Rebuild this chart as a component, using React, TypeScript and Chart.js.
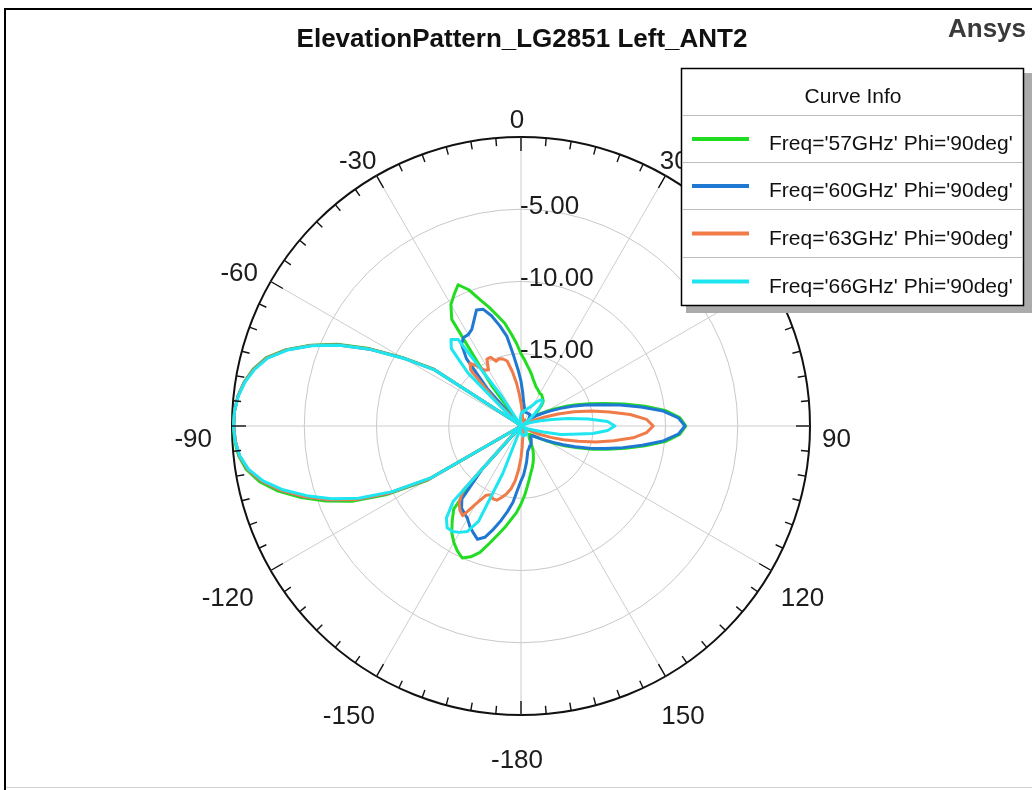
import React, { useEffect, useRef } from 'react';
import { Chart, registerables } from 'chart.js';

Chart.register(...registerables);

// Angle categories (deg), in the chart's clockwise order starting at the top
const ANGLES = [
  0, 3, 6, 9, 12, 15, 18, 21, 24, 27, 30, 33, 36, 39, 42, 45, 48, 51, 54, 57,
  60, 63, 66, 69, 72, 75, 78, 81, 84, 87, 90, 93, 96, 99, 102, 105, 108, 111, 114, 117,
  120, 123, 126, 129, 132, 135, 138, 141, 144, 147, 150, 153, 156, 159, 162, 165, 168, 171, 174, 177,
  180, -177, -174, -171, -168, -165, -162, -159, -156, -153, -150, -147, -144, -141, -138, -135, -132, -129, -126, -123,
  -120, -117, -114, -111, -108, -105, -102, -99, -96, -93, -90, -87, -84, -81, -78, -75, -72, -69, -66, -63,
  -60, -57, -54, -51, -48, -45, -42, -39, -36, -33, -30, -27, -24, -21, -18, -15, -12, -9, -6, -3,
];

// Normalized gain (dB) per angle
const GAIN_57GHZ = [
  -15.0, -15.4, -15.8, -16.1, -16.4, -16.7, -16.9, -17.1, -17.2, -17.3,
  -17.4, -17.4, -17.5, -17.6, -17.7, -18.0, -18.5, -18.8, -18.8, -18.5,
  -18.0, -17.4, -16.7, -15.9, -15.0, -14.0, -12.7, -11.3, -9.9, -9.0,
  -8.6, -9.0, -9.9, -11.3, -12.6, -13.8, -14.8, -15.8, -16.6, -17.3,
  -17.9, -18.4, -18.7, -19.0, -19.1, -19.2, -19.2, -19.1, -19.0, -18.9,
  -18.6, -18.2, -17.9, -17.6, -17.3, -17.0, -16.7, -16.3, -15.8, -15.2,
  -14.6,
  -14.0, -13.5, -12.9, -12.3, -11.6, -10.8, -10.3, -10.0, -10.3, -10.7,
  -11.2, -11.9, -12.6, -15.5, -20, -20, -20, -20, -19.8, -12.4,
  -9.5, -7.2, -5.5, -4.0, -2.6, -1.5, -0.75, -0.35, -0.15, -0.1,
  -0.15, -0.3, -0.6, -1.05, -1.75, -2.9, -4.4, -6.1, -8.2, -10.5,
  -12.7, -19.6, -20, -20, -20, -20, -20, -16.5, -11.2, -10.3,
  -9.8, -9.3, -9.9, -10.8, -11.5, -12.2, -12.8, -13.6, -14.3,
];

const GAIN_60GHZ = [
  -16.9, -17.7, -18.3, -18.6, -18.8, -18.9, -19.0, -19.0, -19.0, -19.0,
  -19.0, -19.0, -19.0, -19.0, -19.1, -19.2, -19.3, -19.2, -19.0, -18.6,
  -18.2, -17.7, -17.0, -16.2, -15.3, -14.3, -13.0, -11.6, -10.1, -9.1,
  -8.65, -9.1, -10.1, -11.5, -12.8, -14.0, -15.0, -16.0, -16.8, -17.5,
  -18.0, -18.4, -18.7, -18.9, -19.0, -19.0, -19.0, -18.9, -18.8, -18.7,
  -18.6, -18.5, -18.5, -18.4, -18.3, -18.2, -17.9, -17.5, -17.1, -16.6,
  -16.2,
  -15.6, -14.7, -14.0, -13.3, -12.6, -11.9, -11.6, -11.9, -12.2, -12.6,
  -12.8, -13.0, -13.5, -16.0, -20, -20, -20, -20, -19.8, -12.7,
  -9.8, -7.5, -5.75, -4.2, -2.8, -1.65, -0.85, -0.4, -0.2, -0.12,
  -0.15, -0.3, -0.62, -1.1, -1.8, -2.95, -4.45, -6.2, -8.3, -10.6,
  -12.8, -19.6, -20, -20, -19.5, -16.5, -14.0, -13.0, -12.7, -12.7,
  -12.5, -12.0, -11.4, -11.5, -12.1, -12.9, -13.7, -15.1, -16.1,
];

const GAIN_63GHZ = [
  -18.4, -18.8, -19.1, -19.3, -19.5, -19.6, -19.6, -19.6, -19.6, -19.6,
  -19.5, -19.5, -19.5, -19.5, -19.6, -19.7, -19.8, -19.9, -19.9, -19.9,
  -19.8, -19.5, -19.0, -18.3, -17.3, -16.2, -15.0, -13.8, -12.4, -11.3,
  -10.85, -11.3, -12.2, -13.5, -14.7, -15.9, -16.9, -17.8, -18.6, -19.2,
  -19.6, -19.8, -19.9, -19.9, -19.9, -19.9, -19.9, -19.9, -19.8, -19.8,
  -19.7, -19.7, -19.6, -19.6, -19.5, -19.4, -19.3, -19.2, -19.0, -18.5,
  -17.8,
  -17.0, -16.2, -15.6, -15.2, -14.9, -14.6, -14.6, -14.8, -14.6, -13.8,
  -12.6, -12.8, -13.2, -14.0, -19.5, -20, -20, -20, -19.8, -12.7,
  -9.8, -7.5, -5.75, -4.2, -2.8, -1.65, -0.85, -0.4, -0.2, -0.12,
  -0.15, -0.3, -0.62, -1.1, -1.8, -2.95, -4.45, -6.2, -8.3, -10.6,
  -12.8, -19.6, -20, -20, -17.5, -14.8, -14.4, -14.9, -15.4, -15.5,
  -14.8, -14.8, -15.2, -15.1, -15.2, -15.4, -16.2, -17.0, -17.8,
];

const GAIN_66GHZ = [
  -19.2, -19.1, -19.0, -19.0, -18.9, -18.9, -18.8, -18.7, -18.6, -18.5,
  -18.3, -18.0, -17.8, -17.7, -17.8, -18.2, -18.7, -19.2, -19.6, -19.8,
  -19.9, -19.9, -19.8, -19.5, -19.1, -18.6, -17.8, -16.7, -15.3, -14.0,
  -13.5, -14.0, -15.0, -16.4, -17.2, -18.4, -19.1, -19.5, -19.7, -19.8,
  -19.8, -19.7, -19.7, -19.6, -19.6, -19.5, -19.5, -19.4, -19.4, -19.3,
  -19.3, -19.3, -19.3, -19.3, -19.3, -19.3, -19.3, -19.4, -19.4, -19.5,
  -19.6,
  -19.7, -19.8, -19.8, -19.8, -19.7, -19.5, -16.5, -12.8, -11.8, -11.5,
  -11.3, -11.3, -11.8, -13.0, -19.8, -20, -20, -20, -19.8, -12.9,
  -10.0, -7.7, -5.95, -4.4, -2.95, -1.75, -0.9, -0.42, -0.18, -0.1,
  -0.15, -0.32, -0.65, -1.15, -1.85, -3.0, -4.5, -6.25, -8.35, -10.65,
  -12.9, -19.6, -20, -19.0, -14.8, -12.8, -12.3, -12.6, -17.5, -19.8,
  -20, -20, -20, -20, -20, -20, -19.8, -19.6, -19.4,
];

const SERIES_NAMES = [
  "Freq='57GHz' Phi='90deg'",
  "Freq='60GHz' Phi='90deg'",
  "Freq='63GHz' Phi='90deg'",
  "Freq='66GHz' Phi='90deg'",
];
const SERIES_COLORS = ['#22dc22', '#1f78d2', '#f07a48', '#1ee6f0'];

const ANGLE_TICKS = [0, 30, 60, 90, 120, 150, 180, -150, -120, -90, -60, -30];
const ANGLE_TICK_LABELS = ['0', '30', '60', '90', '120', '150', '-180', '-150', '-120', '-90', '-60', '-30'];
const RADIAL_TICKS = [-5, -10, -15];
const RADIAL_TICK_LABELS = ['-5.00', '-10.00', '-15.00'];
const TITLE = 'ElevationPattern_LG2851 Left_ANT2';
const BRAND = 'Ansys';
const LEGEND_TITLE = 'Curve Info';

const LABEL_FONT = '26px "Liberation Sans", Arial, sans-serif';

const overlayPlugin = {
  id: 'overlay',
  afterDraw(chart: any) {
    const ctx: CanvasRenderingContext2D = chart.ctx;
    const scale = chart.scales.r;
    const cx = scale.xCenter;
    const cy = scale.yCenter;
    const R = scale.drawingArea;
    ctx.save();

    // degree ticks on the outer circle
    ctx.strokeStyle = '#111';
    ctx.lineWidth = 1.4;
    for (let a = 0; a < 360; a += 5) {
      const len = a % 30 === 0 ? 14 : 8;
      const t = (a * Math.PI) / 180;
      const s = Math.sin(t);
      const c = Math.cos(t);
      ctx.beginPath();
      ctx.moveTo(cx + R * s, cy - R * c);
      ctx.lineTo(cx + (R - len) * s, cy - (R - len) * c);
      ctx.stroke();
    }

    // angle labels
    ctx.font = LABEL_FONT;
    ctx.fillStyle = '#1c1c1c';
    ctx.textAlign = 'center';
    ctx.textBaseline = 'alphabetic';
    const digitH = 19;
    ANGLE_TICKS.forEach((a, i) => {
      const idx = ANGLES.indexOf(a);
      const t = (a * Math.PI) / 180;
      const s = Math.sin(t);
      const c = Math.cos(t);
      const g = 10 + (12 * (1 - c)) / 2;
      const p = scale.getPointPosition(idx, R + g);
      const text = ANGLE_TICK_LABELS[i];
      const w = ctx.measureText(text).width;
      const dy = c > 0.2 ? 1 : c > -0.2 ? 11 : 12;
      const x = p.x + (s * w) / 2 - 4;
      const yMid = p.y - (c * digitH) / 2 + dy;
      ctx.fillText(text, x, yMid + digitH / 2);
    });

    // radial value labels
    ctx.textAlign = 'left';
    RADIAL_TICKS.forEach((v, i) => {
      const d = scale.getDistanceFromCenterForValue(v);
      ctx.fillText(RADIAL_TICK_LABELS[i], cx - 1, cy - d + 4.5);
    });

    // title and brand
    ctx.font = 'bold 26px "Liberation Sans", Arial, sans-serif';
    ctx.textAlign = 'center';
    ctx.fillStyle = '#111';
    ctx.fillText(TITLE, 522, 47);
    ctx.textAlign = 'left';
    ctx.fillStyle = '#3a3a3a';
    ctx.fillText(BRAND, 948, 37);

    // legend box
    const lx = 681, ly = 68, lw = 342, lh = 237;
    ctx.fillStyle = '#ababab';
    ctx.fillRect(lx + 5, ly + 5, lw + 5, lh + 3);
    ctx.fillStyle = '#ffffff';
    ctx.fillRect(lx, ly, lw, lh);
    ctx.strokeStyle = '#000';
    ctx.lineWidth = 1.5;
    ctx.strokeRect(lx + 0.5, ly + 0.5, lw, lh);
    ctx.strokeStyle = '#bdbdbd';
    ctx.lineWidth = 1;
    const rowTops = [115, 162, 209, 257];
    rowTops.forEach((y) => {
      ctx.beginPath();
      ctx.moveTo(lx + 1, y + 0.5);
      ctx.lineTo(lx + lw, y + 0.5);
      ctx.stroke();
    });
    ctx.font = '21px "Liberation Sans", Arial, sans-serif';
    ctx.fillStyle = '#111';
    ctx.textAlign = 'center';
    ctx.fillText(LEGEND_TITLE, 853, 103);
    ctx.textAlign = 'left';
    SERIES_NAMES.forEach((name, i) => {
      const top = rowTops[i];
      const bottom = i < rowTops.length - 1 ? rowTops[i + 1] : ly + lh;
      const mid = (top + bottom) / 2 + 0.5;
      ctx.strokeStyle = SERIES_COLORS[i];
      ctx.lineWidth = 4;
      ctx.beginPath();
      ctx.moveTo(692, mid);
      ctx.lineTo(749, mid);
      ctx.stroke();
      ctx.fillStyle = '#111';
      ctx.fillText(name, 769, mid + 11);
    });

    // frame
    ctx.fillStyle = '#000';
    ctx.fillRect(4, 8, 1028, 2);
    ctx.fillRect(4, 8, 2, 782);
    ctx.fillStyle = '#d2d2d2';
    ctx.fillRect(6, 787, 1026, 1);

    ctx.restore();
  },
};

export default function App() {
  const ref = useRef<HTMLCanvasElement>(null);
  useEffect(() => {
    const canvas = ref.current;
    if (!canvas) return;
    const series = [GAIN_57GHZ, GAIN_60GHZ, GAIN_63GHZ, GAIN_66GHZ];
    const chart = new Chart(canvas, {
      type: 'radar',
      data: {
        labels: ANGLES.map((a) => String(a)),
        datasets: series.map((data, i) => ({
          label: SERIES_NAMES[i],
          data,
          borderColor: SERIES_COLORS[i],
          backgroundColor: 'transparent',
          borderWidth: 3,
          pointRadius: 0,
          pointHoverRadius: 0,
          fill: false,
          tension: 0,
          borderJoinStyle: 'round',
          order: 3 - i,
        })),
      },
      options: {
        animation: false,
        responsive: false,
        maintainAspectRatio: false,
        devicePixelRatio: 1,
        layout: { padding: { left: 232, right: 222, top: 137, bottom: 75 } },
        plugins: {
          legend: { display: false },
          title: { display: false },
          tooltip: { enabled: false },
        },
        scales: {
          r: {
            min: -20,
            max: 0,
            startAngle: 0,
            ticks: { display: false, stepSize: 5 },
            grid: {
              circular: true,
              color: (c: any) => (c.tick && c.tick.value === 0 ? '#111' : '#c8c8c8'),
              lineWidth: (c: any) => (c.tick && c.tick.value === 0 ? 2 : 1),
            },
            angleLines: {
              display: true,
              color: '#cdcdcd',
              lineWidth: (c: any) => (c.index % 10 === 0 ? 1 : 0),
            },
            pointLabels: { display: false },
          },
        },
      } as any,
      plugins: [overlayPlugin],
    });
    return () => chart.destroy();
  }, []);
  return (
    <div style={{ position: 'absolute', left: 0, top: 0, width: 1032, height: 790, background: '#fff' }}>
      <canvas ref={ref} width={1032} height={790} style={{ display: 'block' }} />
    </div>
  );
}
